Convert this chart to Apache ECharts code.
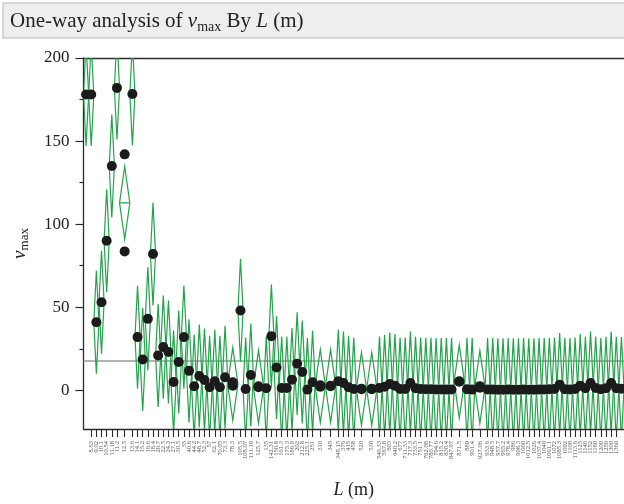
<!DOCTYPE html>
<html>
<head>
<meta charset="utf-8">
<script src="https://cdn.jsdelivr.net/npm/echarts@6/dist/echarts.min.js"></script>
<style>
  html, body { margin: 0; padding: 0; background: #ffffff; }
  #chart { width: 624px; height: 504px; }
</style>
</head>
<body>
<div id="chart"></div>
<script>
// Levels of L (m), left to right
const lengthLabels = [
  '7.4', '8.63', '9.02', '10.1', '10.54', '11.18', '11.2', '12.5', '13.6', '14.1',
  '15.2', '16.6', '18.4', '20.7', '22.5', '24.3', '27.1', '30.5', '35', '40.6',
  '44.2', '48.7', '52.3', '57', '62.1', '70.05', '73.3', '78.3', '105.5', '108.07',
  '111.18', '125.7', '135', '142.31', '150.8', '161.3', '175.3', '186.9', '202', '212.8',
  '225.1', '251', '310', '345', '348.15', '376', '415', '458', '520', '530',
  '540.33', '567.8', '603', '640.2', '677', '711.33', '717.3', '733.5', '751.1', '762.08',
  '780.77', '794.6', '815.2', '830.4', '847.97', '871.5', '889', '901.4', '927.06', '933.6',
  '948.5', '957.7', '965.2', '978.4', '986', '998.3', '1000', '1012.5', '1026', '1037.4',
  '1049', '1061.1', '1072', '1085.3', '1092', '1100', '1113.6', '1125', '1140', '1152',
  '1180', '1200', '1250', '1300', '1360', '1400'
];

// v_max observations for each level
const vmaxByLevel = [
  [178], [178], [41], [53], [90], [135], [182], [142, 83.6], [178.3], [32],
  [18.5], [43], [82], [21], [26], [23], [5], [17], [32], [11.7],
  [2.4], [8.6], [6.2], [1.8], [5.4], [1.8], [7.8], [2.8, 4.8], [48], [0.8],
  [9.2], [1.8, 2.4], [1.2], [32.6], [13.7], [1.4], [1.4], [6.4], [16], [11],
  [0.4], [4.8], [2.2, 3.0], [2.4, 2.8], [5.4], [4.4], [1.8], [0.8], [0.6, 1.0], [0.6, 1.0],
  [1.4], [2.2], [3.8], [2.8], [0.8], [0.8], [4.4], [1.2], [0.8], [0.6],
  [0.6], [0.5], [0.5], [0.4], [0.5], [5.2, 5.4], [0.6], [0.4], [1.5, 2.5], [0.5],
  [0.4], [0.3], [0.3], [0.4], [0.3], [0.3], [0.4], [0.3], [0.3], [0.4],
  [0.5], [0.6], [0.8], [3.4], [0.6], [0.5], [0.8], [2.8], [1.2], [4.4],
  [1.4], [0.6], [1.2], [4.4], [1.2], [1.0]
];

// 95% CI half-width of a single-observation level (pooled error)
const ciHalfWidthSingle = 31;
// overall mean of v_max
const grandMean = 17.7;

const yTicks = [0, 50, 100, 150, 200];
const yMinorTicks = [25, 75, 125, 175];

// Each level gets a slot whose width is proportional to its sample size
const counts = vmaxByLevel.map(v => v.length);
const starts = [];
let acc = 0;
counts.forEach(n => { starts.push(acc); acc += n; });
const totalUnits = acc;
const centers = counts.map((n, i) => starts[i] + n / 2);
const means = vmaxByLevel.map(v => v.reduce((a, b) => a + b, 0) / v.length);

const labelByCenter = new Map();
centers.forEach((c, i) => labelByCenter.set(c.toFixed(3), lengthLabels[i]));

const pointData = [];
vmaxByLevel.forEach((vals, i) => vals.forEach(v => pointData.push([centers[i], v])));

const diamondData = counts.map((n, i) => [i, means[i]]);

const green = '#22a44a';
const axisColor = '#2b2b2b';
const serif = '"Liberation Serif", "DejaVu Serif", serif';

const chart = echarts.init(document.getElementById('chart'), null, { renderer: 'canvas' });

chart.setOption({
  animation: false,
  backgroundColor: '#ffffff',
  textStyle: { fontFamily: serif },
  graphic: [
    {
      type: 'rect',
      shape: { x: 3, y: 3, width: 640, height: 35 },
      style: { fill: '#eeeeee', stroke: '#cdcdcd', lineWidth: 1.5 },
      silent: true
    },
    {
      type: 'text',
      x: 10,
      y: 21,
      style: {
        text: 'One-way analysis of {i|v}{s|max} By {i|L} (m)',
        fontFamily: serif,
        fontSize: 21,
        fill: '#222222',
        verticalAlign: 'middle',
        lineHeight: 26,
        rich: {
          i: { fontStyle: 'italic', fontSize: 21, fontFamily: serif, fill: '#222222', lineHeight: 26 },
          s: { fontSize: 14, fontFamily: serif, fill: '#222222', verticalAlign: 'bottom', lineHeight: 26 }
        }
      },
      silent: true
    }
  ],
  grid: { left: 83.5, top: 58, right: -2.4, bottom: 72, containLabel: false },
  xAxis: [
    {
      type: 'value',
      min: 0,
      max: totalUnits,
      position: 'bottom',
      name: '{i|L} (m)',
      nameLocation: 'middle',
      nameGap: 52,
      nameTextStyle: {
        fontFamily: serif, fontSize: 18, color: '#222222',
        rich: { i: { fontStyle: 'italic', fontFamily: serif, fontSize: 18, color: '#222222' } }
      },
      axisLine: { show: true, onZero: false, lineStyle: { color: axisColor, width: 1.3 } },
      axisTick: { show: true, customValues: centers, length: 8, lineStyle: { color: axisColor, width: 1.1 } },
      axisLabel: {
        show: true,
        customValues: centers,
        rotate: 90,
        fontSize: 6.5,
        fontFamily: serif,
        color: '#555555',
        margin: 12,
        formatter: v => labelByCenter.get(Number(v).toFixed(3)) || ''
      },
      splitLine: { show: false }
    },
    {
      type: 'value',
      min: 0,
      max: totalUnits,
      position: 'top',
      axisLine: { show: true, onZero: false, lineStyle: { color: axisColor, width: 1.3 } },
      axisTick: { show: false },
      axisLabel: { show: false },
      splitLine: { show: false }
    }
  ],
  yAxis: [
    {
      type: 'value',
      min: -23.3,
      max: 200,
      position: 'left',
      name: '{i|v}{s|max}',
      nameLocation: 'middle',
      nameGap: 52,
      nameRotate: 90,
      nameTextStyle: {
        fontFamily: serif, fontSize: 18, color: '#222222',
        rich: {
          i: { fontStyle: 'italic', fontFamily: serif, fontSize: 19, color: '#222222', lineHeight: 24 },
          s: { fontFamily: serif, fontSize: 13, color: '#222222', verticalAlign: 'bottom', lineHeight: 24 }
        }
      },
      axisLine: { show: true, onZero: false, lineStyle: { color: axisColor, width: 1.3 } },
      axisTick: { show: true, customValues: yTicks, length: 8, lineStyle: { color: axisColor, width: 1.2 } },
      axisLabel: {
        show: true, customValues: yTicks, fontFamily: serif, fontSize: 17, color: '#222222', margin: 14
      },
      splitLine: { show: false }
    },
    {
      type: 'value',
      min: -23.3,
      max: 200,
      position: 'left',
      axisLine: { show: false },
      axisTick: { show: true, customValues: yMinorTicks, length: 4, lineStyle: { color: axisColor, width: 1.2 } },
      axisLabel: { show: false },
      splitLine: { show: false }
    }
  ],
  series: [
    {
      // grand mean reference line
      type: 'line',
      data: [[0, grandMean], [totalUnits, grandMean]],
      symbol: 'none',
      lineStyle: { color: '#9a9a9a', width: 1.5 },
      silent: true,
      z: 1
    },
    {
      // means diamonds: height = 95% CI, width = sample size
      type: 'custom',
      clip: true,
      data: diamondData,
      z: 2,
      silent: true,
      renderItem: function (params, api) {
        const i = api.value(0);
        const m = api.value(1);
        const n = counts[i];
        const hw = ciHalfWidthSingle / Math.sqrt(n);
        const x0 = starts[i];
        const x1 = starts[i] + n;
        const xc = centers[i];
        const left = api.coord([x0, m]);
        const top = api.coord([xc, m + hw]);
        const right = api.coord([x1, m]);
        const bottom = api.coord([xc, m - hw]);
        const cs = params.coordSys;
        return {
          type: 'group',
          clipPath: { type: 'rect', shape: { x: cs.x, y: cs.y, width: cs.width, height: cs.height } },
          children: [
            {
              type: 'polygon',
              shape: { points: [left, top, right, bottom] },
              style: { fill: 'none', stroke: green, lineWidth: 1.2 }
            },
            {
              type: 'line',
              shape: { x1: left[0], y1: left[1], x2: right[0], y2: right[1] },
              style: { stroke: green, lineWidth: 1.2 }
            }
          ]
        };
      }
    },
    {
      // individual observations
      type: 'scatter',
      data: pointData,
      symbol: 'circle',
      symbolSize: 10,
      itemStyle: { color: '#1b1b1b', opacity: 1 },
      silent: true,
      z: 3
    }
  ]
});
</script>
</body>
</html>
